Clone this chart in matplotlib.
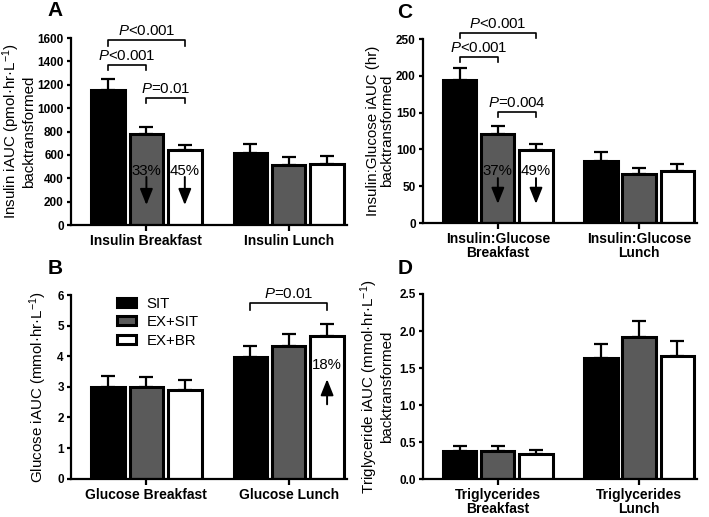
import matplotlib
matplotlib.use("Agg")
import matplotlib.pyplot as plt
import numpy as np
from matplotlib.ticker import FormatStrFormatter, MultipleLocator

plt.rcParams['font.family'] = ['Liberation Sans', 'DejaVu Sans']
plt.rcParams['mathtext.fontset'] = 'custom'
plt.rcParams['mathtext.rm'] = 'Liberation Sans'
plt.rcParams['mathtext.it'] = 'Liberation Sans:italic'
plt.rcParams['mathtext.bf'] = 'Liberation Sans:bold'

# ---------------- data ----------------
conditions = ["SIT", "EX+SIT", "EX+BR"]
colors = ["#000000", "#5a5a5a", "#ffffff"]

insulin_cats = ["Insulin Breakfast", "Insulin Lunch"]
insulin_mean = {"SIT": [1155, 616], "EX+SIT": [778, 513], "EX+BR": [638, 522]}
insulin_err = {"SIT": [95, 77], "EX+SIT": [60, 69], "EX+BR": [46, 68]}

glucose_cats = ["Glucose Breakfast", "Glucose Lunch"]
glucose_mean = {"SIT": [3.01, 3.98], "EX+SIT": [2.98, 4.34], "EX+BR": [2.90, 4.66]}
glucose_err = {"SIT": [0.35, 0.35], "EX+SIT": [0.33, 0.39], "EX+BR": [0.33, 0.39]}

ig_cats = ["Insulin:Glucose\nBreakfast", "Insulin:Glucose\nLunch"]
ig_mean = {"SIT": [194, 84], "EX+SIT": [121, 67], "EX+BR": [99, 70]}
ig_err = {"SIT": [16, 12], "EX+SIT": [11, 8], "EX+BR": [8, 10]}

tg_cats = ["Triglycerides\nBreakfast", "Triglycerides\nLunch"]
tg_mean = {"SIT": [0.38, 1.64], "EX+SIT": [0.38, 1.92], "EX+BR": [0.34, 1.67]}
tg_err = {"SIT": [0.07, 0.19], "EX+SIT": [0.07, 0.22], "EX+BR": [0.06, 0.20]}

# ---------------- figure ----------------
fig = plt.figure(figsize=(7.09, 5.17), dpi=100)
W, H = 709.0, 517.0


def axes_px(left, right, top, bottom):
    return fig.add_axes([left / W, 1 - bottom / H, (right - left) / W, (bottom - top) / H])


axA = axes_px(71, 347, 38, 225)
axC = axes_px(423, 697, 39, 223)
axB = axes_px(71, 347, 295, 478.7)
axD = axes_px(423, 697, 294, 479.3)

offset = 0.27
width = 0.235


def draw_panel(ax, cats, means, errs, ymax, ystep, ylabel, fmt=None, label_x=-0.12):
    x = np.arange(len(cats))
    bars = []
    for k, cond in enumerate(conditions):
        xs = x + (k - 1) * offset
        m = np.array(means[cond])
        e = np.array(errs[cond])
        ax.errorbar(xs, m, yerr=[np.zeros_like(e), e], fmt='none', ecolor='black',
                    elinewidth=1.6, capsize=5, capthick=1.6, zorder=1)
        b = ax.bar(xs, m, width, color=colors[k], edgecolor='black', linewidth=2.2,
                   zorder=2, label=cond)
        bars.append(b)
    ax.set_xlim(-0.53, 1.41)
    ax.set_ylim(0, ymax)
    ax.yaxis.set_major_locator(MultipleLocator(ystep))
    if fmt:
        ax.yaxis.set_major_formatter(FormatStrFormatter(fmt))
    ax.set_xticks(x)
    ax.set_xticklabels(cats, fontsize=10, fontweight='bold', linespacing=1.0)
    for t in ax.get_yticklabels():
        t.set_fontweight('bold')
        t.set_fontsize(8.5)
    for s in ['top', 'right']:
        ax.spines[s].set_visible(False)
    for s in ['left', 'bottom']:
        ax.spines[s].set_linewidth(1.6)
    ax.tick_params(axis='y', direction='out', length=3.2, width=1.6, pad=2)
    ax.tick_params(axis='x', direction='out', length=4.0, width=1.6, pad=2.5)
    ax.set_ylabel(ylabel, fontsize=10.9, linespacing=1.0)
    ax.yaxis.set_label_coords(label_x, 0.5)
    return bars


def bracket(ax, i, j, y, leg, text, group=0):
    x1 = group + (i - 1) * offset
    x2 = group + (j - 1) * offset
    ax.plot([x1, x1, x2, x2], [y - leg, y, y, y - leg], color='black', lw=1.2,
            clip_on=False, zorder=3)
    ax.annotate(text, xy=((x1 + x2) / 2, y), xytext=(0, 1.5), textcoords='offset points',
                ha='center', va='bottom', fontsize=10.8, annotation_clip=False)


def pct_arrow(ax, k, text, ytext, ytail, ytip, group=0):
    xx = group + (k - 1) * offset
    ax.text(xx, ytext, text, ha='center', va='center', fontsize=10.8, zorder=4)
    ax.annotate("", xy=(xx, ytip), xytext=(xx, ytail),
                arrowprops=dict(arrowstyle='-|>,head_length=0.75,head_width=0.3',
                                mutation_scale=13, lw=1.4, color='black',
                                shrinkA=0, shrinkB=0), zorder=4)


# Panel A
draw_panel(axA, insulin_cats, insulin_mean, insulin_err, 1600, 200,
           "Insulin iAUC (pmol\u00b7hr\u00b7L$^{-1}$)\nbacktransformed", label_x=-0.125)
bracket(axA, 0, 2, 1580, 45, r"$\it{P}$<0.001")
bracket(axA, 0, 1, 1370, 45, r"$\it{P}$<0.001")
bracket(axA, 1, 2, 1085, 45, r"$\it{P}$=0.01")
pct_arrow(axA, 1, "33%", 462, 411, 171)
pct_arrow(axA, 2, "45%", 462, 411, 171)

# Panel C
draw_panel(axC, ig_cats, ig_mean, ig_err, 250, 50,
           "Insulin:Glucose iAUC (hr)\nbacktransformed", label_x=-0.105)
bracket(axC, 0, 2, 258, 7, r"$\it{P}$<0.001")
bracket(axC, 0, 1, 226, 7, r"$\it{P}$<0.001")
bracket(axC, 1, 2, 151, 7, r"$\it{P}$=0.004")
pct_arrow(axC, 1, "37%", 70, 61, 26)
pct_arrow(axC, 2, "49%", 70, 61, 26)

# Panel B
barsB = draw_panel(axB, glucose_cats, glucose_mean, glucose_err, 6, 1,
                   "Glucose iAUC (mmol\u00b7hr\u00b7L$^{-1}$)", label_x=-0.08)
bracket(axB, 0, 2, 5.73, 0.23, r"$\it{P}$=0.01", group=1)
pct_arrow(axB, 2, "18%", 3.7, 2.43, 3.25, group=1)
axB.legend(handles=barsB, labels=conditions, loc='upper left', bbox_to_anchor=(0.127, 1.048),
           frameon=False, fontsize=10.8, handlelength=1.3, handleheight=0.55,
           labelspacing=0.3, handletextpad=0.7, borderpad=0.2)

# Panel D
draw_panel(axD, tg_cats, tg_mean, tg_err, 2.5, 0.5,
           "Triglyceride iAUC (mmol\u00b7hr\u00b7L$^{-1}$)\nbacktransformed", fmt='%.1f',
           label_x=-0.105)

# Panel letters
for letter, (px, py) in {"A": (55, 11), "B": (55, 269), "C": (405, 13), "D": (405, 268)}.items():
    fig.text(px / W, 1 - py / H, letter, fontsize=15, fontweight='bold', ha='center', va='center')

fig.savefig("out.png", dpi=100)
